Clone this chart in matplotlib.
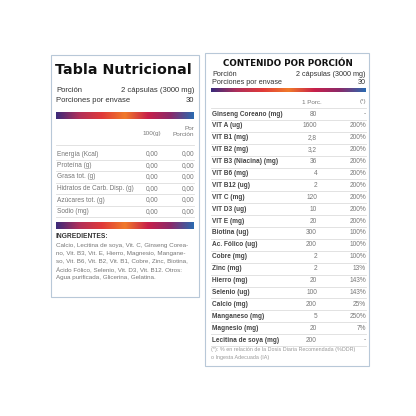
import numpy as np
import matplotlib.pyplot as plt
from matplotlib.colors import LinearSegmentedColormap
from matplotlib.patches import Rectangle

# left table
left_labels = ["Energía (Kcal)", "Proteína (g)", "Grasa tot. (g)",
               "Hidratos de Carb. Disp. (g)", "Azúcares tot. (g)", "Sodio (mg)"]
left_100g = ["0,00"] * 6
left_porc = ["0,00"] * 6
ingredientes = ["Calcio, Lecitina de soya, Vit. C, Ginseng Corea-",
                "no, Vit. B3, Vit. E, Hierro, Magnesio, Mangane-",
                "so, Vit. B6, Vit. B2, Vit. B1, Cobre, Zinc, Biotina,",
                "Ácido Fólico, Selenio, Vit. D3, Vit. B12. Otros:",
                "Agua purificada, Glicerina, Gelatina."]

# right table
right_labels = ["Ginseng Coreano (mg)", "VIT A (ug)", "VIT B1 (mg)", "VIT B2 (mg)",
                "VIT B3 (Niacina) (mg)", "VIT B6 (mg)", "VIT B12 (ug)", "VIT C (mg)",
                "VIT D3 (ug)", "VIT E (mg)", "Biotina (ug)", "Ac. Fólico (ug)",
                "Cobre (mg)", "Zinc (mg)", "Hierro (mg)", "Selenio (ug)", "Calcio (mg)",
                "Manganeso (mg)", "Magnesio (mg)", "Lecitina de soya (mg)"]
right_porc = ["80", "1600", "2,8", "3,2", "36", "4", "2", "120", "10", "20",
              "300", "200", "2", "2", "20", "100", "200", "5", "20", "200"]
right_pct = ["-", "200%", "200%", "200%", "200%", "200%", "200%", "200%", "200%", "200%",
             "100%", "100%", "100%", "13%", "143%", "143%", "25%", "250%", "7%", "-"]

plt.rcParams["font.family"] = ["Liberation Sans", "DejaVu Sans"]

grad = LinearSegmentedColormap.from_list(
    "g", ["#3b2a7a", "#b0305a", "#e03a3a", "#f07a2a", "#c8204a", "#8a2a6a", "#2a6ab0"])
TXT = "#333333"
GREY = "#777777"

fig = plt.figure(figsize=(4.16, 4.16), dpi=100)
ax = fig.add_axes([0, 0, 1, 1])
ax.set_xlim(0, 416)
ax.set_ylim(416, 0)
ax.axis("off")


def gradient(x0, x1, y0, y1):
    ax.imshow(np.linspace(0, 1, 256)[None, :], cmap=grad, aspect="auto",
              extent=(x0, x1, y1, y0), zorder=2)


def rule(x0, x1, y):
    ax.plot([x0, x1], [y, y], color="#dddddd", lw=0.6, zorder=1)


# left panel
ax.add_patch(Rectangle((51, 55), 148, 242, fill=False, ec="#b8c8d8", lw=0.8))
ax.text(55, 70, "Tabla Nutricional", fontsize=10.3, fontweight="bold", va="center",
        color="#111111", family="DejaVu Sans")
ax.text(56, 90, "Porción", fontsize=5.5, va="center", color=TXT)
ax.text(194, 90, "2 cápsulas (3000 mg)", fontsize=5.5, va="center", ha="right", color=TXT)
ax.text(56, 101, "Porciones por envase", fontsize=5.5, va="center", color=TXT)
ax.text(194, 101, "30", fontsize=5.5, va="center", ha="right", color=TXT)
gradient(56, 194, 112, 119)
ax.text(194, 128, "Por", fontsize=4.6, va="center", ha="right", color=GREY)
ax.text(194, 134, "Porción", fontsize=4.6, va="center", ha="right", color=GREY)
ax.text(161, 134, "100(g)", fontsize=4.6, va="center", ha="right", color=GREY)
rule(56, 194, 145)
for i, (lab, a, b) in enumerate(zip(left_labels, left_100g, left_porc)):
    y = 154 + i * 11.5
    ax.text(57, y, lab, fontsize=4.7, va="center", color=GREY)
    ax.text(158, y, a, fontsize=4.7, va="center", ha="right", color=GREY)
    ax.text(194, y, b, fontsize=4.7, va="center", ha="right", color=GREY)
    rule(56, 194, y + 5.7)
gradient(56, 194, 222, 229)
ax.text(56, 236, "INGREDIENTES:", fontsize=4.8, fontweight="bold", va="center", color=TXT)
for i, line in enumerate(ingredientes):
    ax.text(56, 245 + i * 8, line, fontsize=4.5, va="center", color=GREY)

# right panel
ax.add_patch(Rectangle((205, 53), 164, 313, fill=False, ec="#b8c8d8", lw=0.8))
ax.text(288, 63, "CONTENIDO POR PORCIÓN", fontsize=6.3, fontweight="bold", va="center",
        ha="center", color="#111111", family="DejaVu Sans")
ax.text(212, 75, "Porción", fontsize=5.2, va="center", color=TXT)
ax.text(366, 75, "2 cápsulas (3000 mg)", fontsize=5.2, va="center", ha="right", color=TXT)
ax.text(212, 82.5, "Porciones por envase", fontsize=5.2, va="center", color=TXT)
ax.text(366, 82.5, "30", fontsize=5.2, va="center", ha="right", color=TXT)
gradient(211, 366, 88, 92)
ax.text(312, 102, "1 Porc.", fontsize=4.5, va="center", ha="center", color=GREY)
ax.text(366, 102, "(*)", fontsize=4.5, va="center", ha="right", color=GREY)
rule(211, 366, 108)
for i, (lab, a, b) in enumerate(zip(right_labels, right_porc, right_pct)):
    y = 114 + i * 11.9
    ax.text(212, y, lab, fontsize=4.7, va="center", color="#444444", fontweight="bold")
    ax.text(317, y, a, fontsize=4.7, va="center", ha="right", color=GREY)
    ax.text(366, y, b, fontsize=4.7, va="center", ha="right", color=GREY)
    rule(211, 366, y + 5.9)
ax.text(211, 350, "(*): % en relación de la Dosis Diaria Recomendada (%DDR)", fontsize=3.9,
        va="center", color="#999999")
ax.text(211, 357, "o Ingesta Adecuada (IA)", fontsize=3.9, va="center", color="#999999")

fig.savefig("out.png", dpi=100)
